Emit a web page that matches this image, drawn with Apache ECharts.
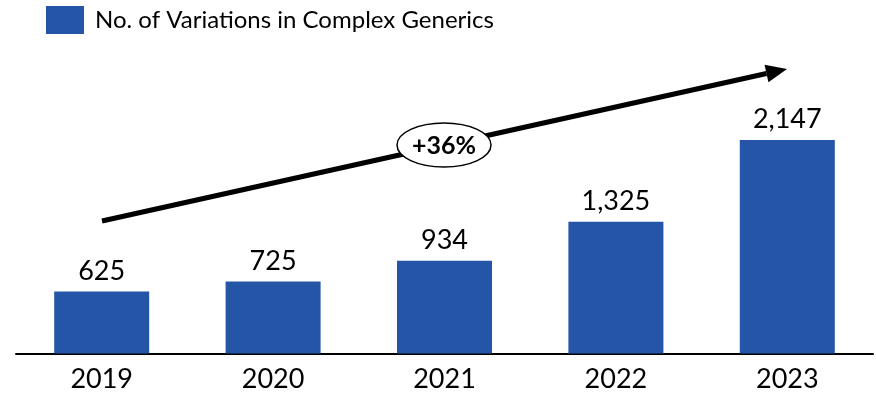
<!DOCTYPE html>
<html>
<head>
<meta charset="utf-8">
<script src="https://cdn.jsdelivr.net/npm/echarts@6/dist/echarts.min.js"></script>
<style>
  html, body { margin: 0; padding: 0; background: #fff; }
  #chart { width: 876px; height: 396px; }
</style>
</head>
<body>
<div id="chart"></div>
<script>
// Yearly counts of variations filed for complex generic products
const years = ['2019', '2020', '2021', '2022', '2023'];
const variations = [625, 725, 934, 1325, 2147];
const seriesName = 'No. of Variations in Complex Generics';
const growthLabel = '+36%';

const BAR_COLOR = '#2555A7';
const FONT = 'Lato, "Open Sans", sans-serif';

// Trend arrow geometry (start point, tip, head size)
const arrowStart = [102, 221];
const arrowTip = [787, 69];
const headLen = 21, headHalf = 9;
const dx = arrowTip[0] - arrowStart[0], dy = arrowTip[1] - arrowStart[1];
const len = Math.hypot(dx, dy);
const ux = dx / len, uy = dy / len;
const nx = -uy, ny = ux;
const base = [arrowTip[0] - headLen * ux, arrowTip[1] - headLen * uy];

const chart = echarts.init(document.getElementById('chart'));
chart.setOption({
  animation: false,
  legend: {
    left: 41,
    top: 1,
    itemWidth: 38,
    itemHeight: 28,
    icon: 'rect',
    textStyle: { fontFamily: FONT, fontSize: 24, color: '#000', padding: [0, 0, 0, 6] },
    data: [seriesName]
  },
  grid: { left: 16, right: 3, top: 105, bottom: 42.5 },
  xAxis: {
    type: 'category',
    data: years,
    axisLine: { lineStyle: { color: '#000', width: 2 } },
    axisTick: { show: false },
    axisLabel: { fontFamily: FONT, fontSize: 27, color: '#000', margin: 12 }
  },
  yAxis: {
    type: 'value',
    min: 0,
    max: 2500,
    show: false,
    splitLine: { show: false }
  },
  series: [{
    name: seriesName,
    type: 'bar',
    data: variations,
    barWidth: 95,
    itemStyle: { color: BAR_COLOR },
    label: {
      show: true,
      position: 'top',
      distance: 7,
      fontFamily: FONT,
      fontSize: 27,
      color: '#000',
      formatter: p => p.value.toLocaleString('en-US')
    }
  }],
  graphic: [
    {
      type: 'line',
      shape: { x1: arrowStart[0], y1: arrowStart[1], x2: base[0], y2: base[1] },
      style: { stroke: '#000', lineWidth: 5 },
      z: 10
    },
    {
      type: 'polygon',
      shape: {
        points: [
          arrowTip,
          [base[0] + headHalf * nx, base[1] + headHalf * ny],
          [base[0] - headHalf * nx, base[1] - headHalf * ny]
        ]
      },
      style: { fill: '#000' },
      z: 10
    },
    {
      type: 'ellipse',
      shape: { cx: 444, cy: 145, rx: 47, ry: 22 },
      style: { fill: '#fff', stroke: '#000', lineWidth: 1.5 },
      z: 11
    },
    {
      type: 'text',
      x: 444,
      y: 146,
      style: {
        text: growthLabel,
        fontFamily: FONT,
        fontSize: 25,
        fontWeight: 'bold',
        fill: '#000',
        align: 'center',
        verticalAlign: 'middle'
      },
      z: 12
    }
  ]
});
</script>
</body>
</html>
